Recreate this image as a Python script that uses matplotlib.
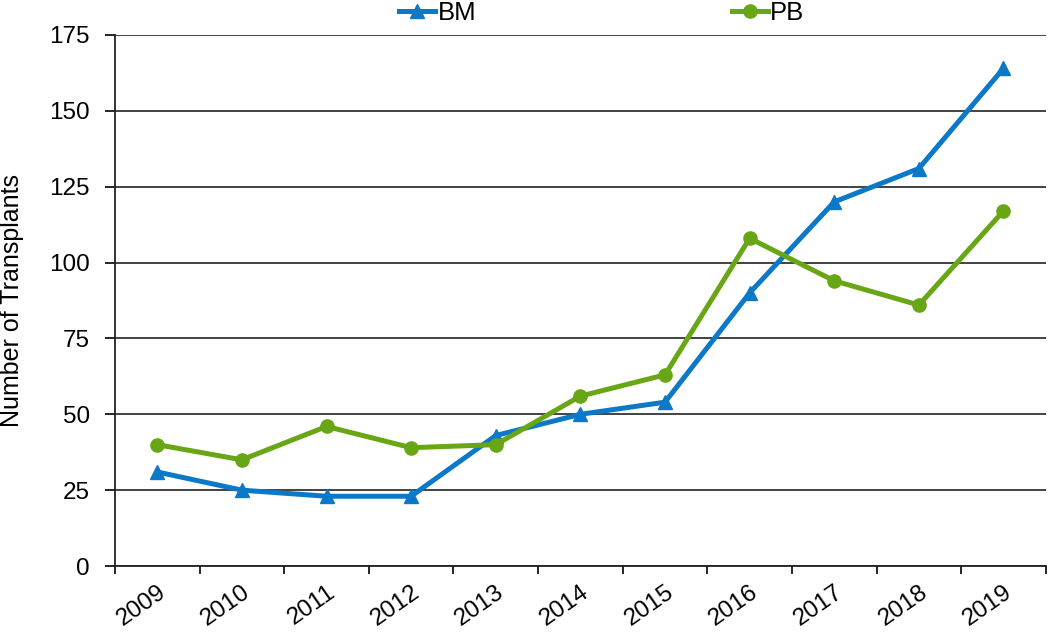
import matplotlib
matplotlib.use("Agg")
import matplotlib.pyplot as plt
import numpy as np

years = ["2009", "2010", "2011", "2012", "2013", "2014", "2015", "2016", "2017", "2018", "2019"]
bm = [31, 25, 23, 23, 43, 50, 54, 90, 120, 131, 164]
pb = [40, 35, 46, 39, 40, 56, 63, 108, 94, 86, 117]

plt.rcParams['font.family'] = ['Liberation Sans', 'DejaVu Sans']

fig = plt.figure(figsize=(10.5, 6.36), dpi=100)
ax = fig.add_axes([0.1095, 0.110, 0.8865, 0.835])

x = np.arange(len(years)) + 0.5
ax.plot(x, bm, color='#0B78C8', lw=3.6, marker='^', markersize=9.5, label='BM', zorder=3)
ax.plot(x, pb, color='#68A616', lw=3.6, marker='o', markersize=9.5, label='PB', zorder=3)

ax.set_xlim(0, len(years))
ax.set_ylim(0, 175)
ax.set_yticks(np.arange(0, 176, 25))
ax.yaxis.grid(True, color='#222222', lw=1.2)
ax.set_axisbelow(True)

# year labels sit between the tick marks
ax.set_xticks(np.arange(0, len(years) + 1))
ax.set_xticklabels([])
ax.set_xticks(x, minor=True)
ax.set_xticklabels(years, minor=True, rotation=35, ha='right', va='top',
                   rotation_mode='anchor', fontsize=17.5)
ax.tick_params(axis='x', which='minor', length=0, pad=11)
ax.tick_params(axis='x', which='major', length=6, width=1.2, direction='out')
ax.tick_params(axis='y', length=7, width=1.2, labelsize=17.5, pad=11)

for s in ['top', 'right']:
    ax.spines[s].set_visible(False)
for s in ['left', 'bottom']:
    ax.spines[s].set_linewidth(1.3)
    ax.spines[s].set_color('#222222')

ax.set_ylabel('Number of Transplants', fontsize=18, labelpad=18)

fig.legend(loc='upper center', bbox_to_anchor=(0.573, 1.035), ncol=2, frameon=False,
           fontsize=18.5, columnspacing=9.95, handlelength=1.4, handletextpad=0.1)

fig.savefig('out.png', dpi=100)
